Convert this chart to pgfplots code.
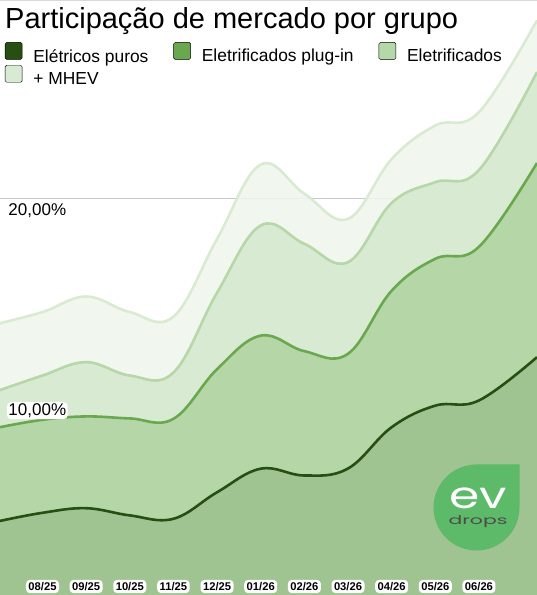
\documentclass[border=0pt]{standalone}
\usepackage{fontspec}
\setmainfont{Liberation Sans}
\newfontfamily\logofont{Poppins}
\usepackage{pgfplots}
\pgfplotsset{compat=1.18}
\usepackage{pgfplotstable}

\definecolor{cD}{RGB}{39,78,19}
\definecolor{cP}{RGB}{106,168,79}
\definecolor{cE}{RGB}{182,215,168}
\definecolor{cM}{RGB}{217,234,211}
\definecolor{fD}{RGB}{156,193,142}
\definecolor{fP}{RGB}{176,212,160}
\definecolor{fE}{RGB}{213,232,206}
\definecolor{fM}{RGB}{238,246,236}
\definecolor{gridc}{RGB}{200,200,200}
\definecolor{logog}{RGB}{92,186,104}

\pgfplotstableread{
x D P E M
0 3.85 8.55 10.40 13.76
1 4.27 8.93 11.15 14.33
2 4.50 9.10 11.82 15.11
3 4.14 9.00 11.15 14.33
4 3.97 8.98 11.30 14.10
5 5.30 11.47 15.30 18.00
6 6.48 13.15 18.67 21.72
7 6.14 12.37 17.75 20.26
8 6.49 12.24 16.83 19.00
9 8.56 15.40 19.80 22.00
10 9.64 17.00 20.84 23.68
11 9.90 17.60 21.45 24.35
12.33 12.07 21.80 26.36 28.95
}\datatable

\pgfplotstableread{
x g
0 10
12.33 10
}\gridten
\pgfplotstableread{
x g
0 20
12.33 20
}\gridtwenty

\begin{document}
\begin{tikzpicture}
\begin{axis}[
  axis on top,
  at={(0,0)}, anchor=south west,
  scale only axis, width=537pt, height=595pt,
  xmin=0.026, xmax=12.33, ymin=0.15, ymax=29.97,
  axis line style={draw=none},
  major tick length=0pt,
  xtick={1,2,3,4,5,6,7,8,9,10,11},
  xticklabels={08/25,09/25,10/25,11/25,12/25,01/26,02/26,03/26,04/26,05/26,06/26},
  xticklabel style={font=\bfseries\fontsize{11.2}{12}\selectfont, anchor=center, yshift=8.5pt,
    fill=white, rounded corners=4pt, inner xsep=2.5pt, inner ysep=2.5pt},
  ytick={10,20},
  yticklabels={{10,00\%},{20,00\%}},
  yticklabel style={anchor=north west, xshift=6.8pt, yshift=-3.5pt, inner sep=1.5pt,
    fill=white, rounded corners=4pt, font=\fontsize{17}{20}\selectfont},
  every axis title shift=0pt,
  title={Participação de mercado por grupo},
  title style={at={(axis description cs:0.0093,0.9524)}, anchor=base west, inner sep=0pt, font=\fontsize{29}{32}\selectfont},
  legend columns=3,
  legend cell align=left,
  legend style={at={(axis description cs:0.0093,0.929)}, anchor=north west, draw=none, fill=none, inner sep=0pt, outer sep=0pt,
    font=\fontsize{17.4}{20}\selectfont, /tikz/row sep=1.5pt,
    /tikz/every odd column/.append style={column sep=11pt},
    /tikz/every even column/.append style={column sep=25pt},
    nodes={inner sep=0pt}},
  legend image code/.code={\fill[#1, rounded corners=1.5pt] (0pt,-3pt) rectangle (17pt,14pt);},
]
\addlegendimage{fill=cD}
\addlegendentry{Elétricos puros}
\addlegendimage{fill=cP}
\addlegendentry{Eletrificados plug-in}
\addlegendimage{fill=cE}
\addlegendentry{Eletrificados}
\addlegendimage{fill=cM}
\addlegendentry{+ MHEV}

\addplot[gridc, line width=1pt, forget plot] table[x=x,y=g]{\gridten};
\addplot[gridc, line width=1pt, forget plot] table[x=x,y=g]{\gridtwenty};

\addplot[draw=none, fill=fM, fill opacity=0.85, smooth, tension=0.65, forget plot] table[x=x,y=M]{\datatable} \closedcycle;
\addplot[cM, line width=2.6pt, smooth, tension=0.65, forget plot] table[x=x,y=M]{\datatable};
\addplot[draw=none, fill=fE, fill opacity=0.85, smooth, tension=0.65, forget plot] table[x=x,y=E]{\datatable} \closedcycle;
\addplot[cE, line width=2.6pt, smooth, tension=0.65, forget plot] table[x=x,y=E]{\datatable};
\addplot[draw=none, fill=fP, fill opacity=0.85, smooth, tension=0.65, forget plot] table[x=x,y=P]{\datatable} \closedcycle;
\addplot[cP, line width=2.6pt, smooth, tension=0.65, forget plot] table[x=x,y=P]{\datatable};
\addplot[draw=none, fill=fD, fill opacity=0.85, smooth, tension=0.65, forget plot] table[x=x,y=D]{\datatable} \closedcycle;
\addplot[cD, line width=2.6pt, smooth, tension=0.65, forget plot] table[x=x,y=D]{\datatable};
\end{axis}
\fill[logog] (476.5pt,130.5pt) -- (519.5pt,130.5pt) -- (519.5pt,87.5pt) arc[start angle=0, end angle=-270, radius=43pt] -- cycle;
\node[anchor=base, text=white, font=\logofont\fontsize{37}{37}\selectfont, xscale=1.32, inner sep=0pt] at (478pt,86pt) {ev};
\node[anchor=base, text=black!70, font=\logofont\fontsize{12}{12}\selectfont, xscale=1.7, inner sep=0pt] at (478pt,70.5pt) {drops};
\draw[black!15, line width=1pt] (0,594.5pt) -- (537pt,594.5pt);
\pgfresetboundingbox
\path (0,0) rectangle (537pt,595pt);
\end{tikzpicture}
\end{document}
